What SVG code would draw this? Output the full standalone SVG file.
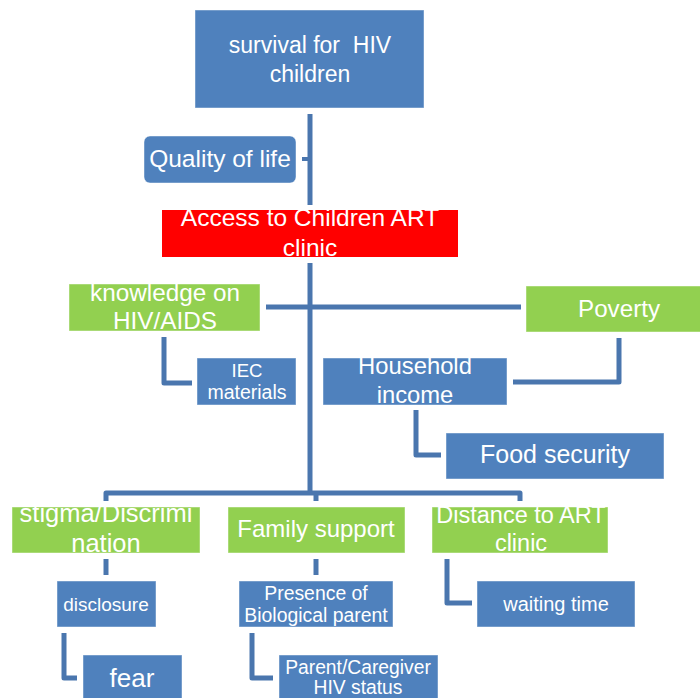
<svg xmlns="http://www.w3.org/2000/svg" width="700" height="698" viewBox="0 0 700 698">
<style>
.b{fill:#4F81BD;stroke:#ffffff;stroke-opacity:0.45;stroke-width:1}
.g{fill:#92D050;stroke:#ffffff;stroke-opacity:0.45;stroke-width:1}
.r{fill:#FF0000}
.c{fill:none;stroke:#4A76AE;stroke-width:5;stroke-linejoin:round}
text{font-family:"Liberation Sans",Arial,sans-serif;fill:#ffffff;text-anchor:middle;white-space:pre}
</style>
<rect width="700" height="698" fill="#ffffff"/>
<g id="connectors">
<path class="c" d="M310 114V205"/>
<path class="c" d="M310 263V493"/>
<path class="c" d="M302 159H310" style="stroke-width:4"/>
<path class="c" d="M266 307H521"/>
<path class="c" d="M164 337V383H192"/>
<path class="c" d="M619 338V382H513"/>
<path class="c" d="M416 410V455H441"/>
<path class="c" d="M106 501V493H520V501"/>
<path class="c" d="M316 493V501"/>
<path class="c" d="M106 559V575"/>
<path class="c" d="M316 559V575"/>
<path class="c" d="M64 633V678H77"/>
<path class="c" d="M252 633V678H273"/>
<path class="c" d="M447 559V603H472"/>
</g>
<g id="survival">
<rect class="b" x="195" y="10" width="229" height="98"/>
<text x="310" y="53" font-size="23">survival for  HIV</text>
<text x="310" y="82" font-size="23">children</text>
</g>
<g id="quality">
<rect class="b" x="144" y="136" width="152" height="47" rx="6"/>
<text x="220" y="167" font-size="24.5">Quality of life</text>
</g>
<g id="access">
<rect class="r" x="162" y="210" width="296" height="47"/>
<text x="310" y="226" font-size="24.5">Access to Children ART</text>
<text x="310" y="256" font-size="24.5">clinic</text>
</g>
<g id="knowledge">
<rect class="g" x="69" y="284" width="191" height="47"/>
<text x="165" y="301" font-size="24.3">knowledge on</text>
<text x="165" y="329" font-size="24.3">HIV/AIDS</text>
</g>
<g id="poverty">
<rect class="g" x="526" y="286" width="176" height="46"/>
<text x="619" y="317" font-size="24.2">Poverty</text>
</g>
<g id="iec">
<rect class="b" x="197" y="358" width="99" height="47"/>
<text x="247" y="377" font-size="18.5">IEC</text>
<text x="247" y="399" font-size="19.5">materials</text>
</g>
<g id="household">
<rect class="b" x="323" y="358" width="184" height="47"/>
<text x="415" y="374" font-size="23.8">Household</text>
<text x="415" y="403" font-size="23.8">income</text>
</g>
<g id="food">
<rect class="b" x="446" y="433" width="218" height="46"/>
<text x="555" y="463" font-size="25">Food security</text>
</g>
<g id="stigma">
<rect class="g" x="12" y="507" width="188" height="46"/>
<text x="106" y="522" font-size="25.5">stigma/Discrimi</text>
<text x="106" y="552" font-size="25.5">nation</text>
</g>
<g id="family">
<rect class="g" x="228" y="507" width="177" height="46"/>
<text x="316" y="537" font-size="24">Family support</text>
</g>
<g id="distance">
<rect class="g" x="432" y="507" width="176" height="46"/>
<text x="521" y="523" font-size="23.5">Distance to ART</text>
<text x="521" y="551" font-size="23.5">clinic</text>
</g>
<g id="disclosure">
<rect class="b" x="57" y="581" width="99" height="46"/>
<text x="106" y="611" font-size="19">disclosure</text>
</g>
<g id="presence">
<rect class="b" x="239" y="581" width="154" height="46"/>
<text x="316" y="600" font-size="19.4">Presence of</text>
<text x="316" y="622" font-size="19.4">Biological parent</text>
</g>
<g id="waiting">
<rect class="b" x="477" y="581" width="158" height="46"/>
<text x="556" y="611" font-size="20">waiting time</text>
</g>
<g id="fear">
<rect class="b" x="83" y="655" width="99" height="50"/>
<text x="132" y="687" font-size="26">fear</text>
</g>
<g id="parent">
<rect class="b" x="279" y="655" width="159" height="50"/>
<text x="358" y="674" font-size="19.3">Parent/Caregiver</text>
<text x="358" y="694" font-size="19.3">HIV status</text>
</g>
</svg>
